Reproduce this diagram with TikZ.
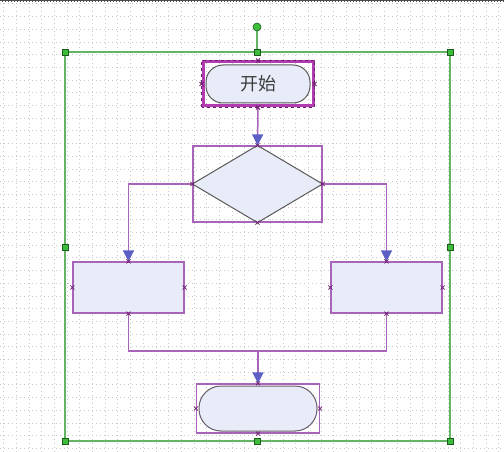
\documentclass[tikz,border=0pt]{standalone}
\usepackage{fontspec}
\newfontfamily\cjk{Noto Sans CJK SC}
\usetikzlibrary{arrows.meta}
\definecolor{gridc}{RGB}{200,200,200}
\definecolor{selc}{RGB}{168,100,184}
\definecolor{selthick}{RGB}{176,60,176}
\definecolor{seldark}{RGB}{110,30,110}
\definecolor{arrowc}{RGB}{92,96,196}
\definecolor{shapefill}{RGB}{232,236,248}
\definecolor{shapeline}{RGB}{90,90,90}
\definecolor{framec}{RGB}{100,180,100}
\definecolor{handlec}{RGB}{60,190,60}
\definecolor{handleline}{RGB}{30,90,30}
\definecolor{textc}{RGB}{60,60,60}
\tikzset{
  box/.style={rectangle, draw=selc, line width=1.2pt, inner sep=0pt},
  fbox/.style={box, fill=shapefill},
  startbox/.style={rectangle, draw=selthick, line width=3pt, inner sep=0pt},
  conn/.style={draw=selc, line width=1.5pt, -{Triangle[width=11pt,length=11pt,color=arrowc,fill=arrowc]}},
  link/.style={draw=selc, line width=1.5pt},
  stadium/.style={draw=shapeline, line width=1pt, fill=shapefill},
  handle/.style={rectangle, draw=handleline, fill=handlec, minimum size=6pt, inner sep=0pt, line width=0.6pt},
  xmk/.style={draw=seldark, line width=0.8pt},
  xm/.pic={\draw[xmk] (-2,-2)--(2,2) (-2,2)--(2,-2);}
}
\begin{document}
\begin{tikzpicture}[x=1pt,y=-1pt]
\useasboundingbox (0,0) rectangle (504,452);
\fill[white] (0,0) rectangle (504,452);
% grid
\foreach \i in {0,...,39} {
  \draw[gridc, line width=0.7pt, dash pattern=on 1pt off 3pt] ({3.5+12.7*\i},3) -- ({3.5+12.7*\i},452);
  \draw[gridc, line width=0.7pt, dash pattern=on 1pt off 3pt] (0,{3.8+12.7*\i}) -- (504,{3.8+12.7*\i});
}
% top strip
\fill[black!70] (0,0) rectangle (504,2.5);
\draw[white, line width=0.8pt, dash pattern=on 1.5pt off 1.5pt] (0,1.25) -- (504,1.25);
% selection frame
\draw[framec, line width=1.2pt] (65,52) rectangle (450,441);
\draw[framec, line width=1.2pt] (257,31) -- (257,52);

% start terminal
\node[startbox, minimum width=110pt, minimum height=44pt] (start) at (258,84) {};
\draw[stadium, rounded corners=17pt] (206,65) rectangle (310,103);
\draw[seldark, line width=1pt, dash pattern=on 3pt off 3pt] (start.south west) rectangle (start.north east);
\node[font=\cjk\fontsize{18}{20}\selectfont, text=textc] (starttext) at (258,84) {开始};

% decision
\node[box, minimum width=129pt, minimum height=76pt] (dec) at (257.5,184) {};
\draw[stadium] (dec.north) -- (dec.east) -- (dec.south) -- (dec.west) -- cycle;

% process boxes
\node[fbox, minimum width=111pt, minimum height=51pt] (L) at (128.5,287.5) {};
\node[fbox, minimum width=111pt, minimum height=51pt] (R) at (386.5,287.5) {};

% end terminal
\node[box, minimum width=123pt, minimum height=49pt] (E) at (258,408.5) {};
\draw[stadium, draw=shapeline!80!selc, rounded corners=22pt] (199,386) rectangle (317,431);

% connectors
\coordinate (join) at (258,351);
\draw[conn] (start.south) -- (dec.north);
\draw[conn] (dec.west) -| (L.north);
\draw[conn] (dec.east) -| (R.north);
\draw[link] (L.south) |- (join) -| (R.south);
\draw[conn] (join) -- (E.north);

% connection markers
\foreach \n in {start.north,start.south,start.west,start.east,
                dec.north,dec.south,dec.west,dec.east,
                L.north,L.south,L.west,L.east,
                R.north,R.south,R.west,R.east,
                E.north,E.south,E.west,E.east}
  \pic at (\n) {xm};

% handles
\foreach \p in {(65,52),(257,52),(450,52),(65,247),(450,247),(65,441),(257,441),(450,441)}
  \node[handle] at \p {};
\node[circle, draw=handleline, fill=handlec, minimum size=8pt, inner sep=0pt, line width=0.6pt] (rot) at (257,27) {};
\end{tikzpicture}
\end{document}
